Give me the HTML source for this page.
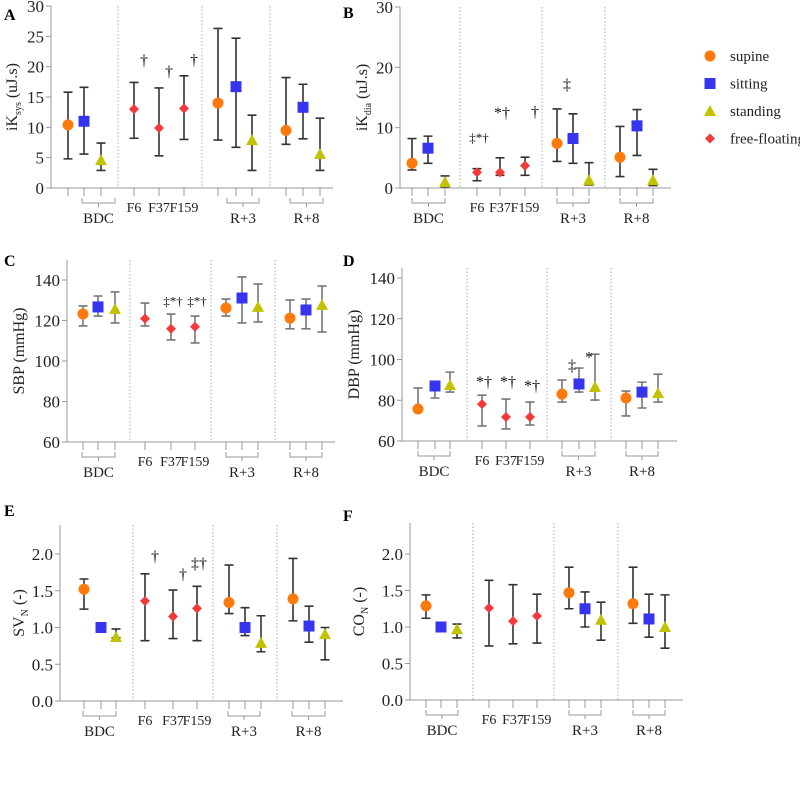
<!DOCTYPE html>
<html><head><meta charset="utf-8">
<style>
html,body{margin:0;padding:0;background:#fff;}
svg, svg text{font-family:"Liberation Serif","DejaVu Serif",serif;}
</style></head>
<body>
<svg id="chart" width="800" height="799" viewBox="0 0 800 799" xmlns="http://www.w3.org/2000/svg" font-family="Liberation Serif, serif"></svg>
<script>
// categories (order of points in every panel)
const pointGroups = ['BDC','BDC','BDC','F6','F37','F159','R+3','R+3','R+3','R+8','R+8','R+8'];
const pointPostures = ['supine','sitting','standing','free-floating','free-floating','free-floating','supine','sitting','standing','supine','sitting','standing'];
const legendLabels = ['supine','sitting','standing','free-floating'];

// Panel A iKsys
const A_mean = [10.4,11.0,4.6,13.0,9.9,13.1,14.0,16.7,7.9,9.5,13.3,5.6];
const A_lo   = [4.8,5.6,2.9,8.2,5.3,8.0,7.9,6.7,2.9,7.2,8.1,2.9];
const A_hi   = [15.8,16.6,7.4,17.4,16.5,18.5,26.3,24.7,12.0,18.2,17.1,11.5];
const A_ticks = [0,5,10,15,20,25,30];
const A_annot = [[3,'†',20.2],[4,'†',18.4],[5,'†',20.3]];
// Panel B iKdia
const B_mean = [4.1,6.6,1.0,2.6,2.6,3.7,7.4,8.2,1.3,5.1,10.3,1.3];
const B_lo   = [3.0,4.1,0.2,1.2,2.1,2.1,4.4,4.1,0.5,1.9,5.4,0.4];
const B_hi   = [8.2,8.6,2.0,3.2,5.0,5.1,13.1,12.3,4.2,10.2,13.0,3.1];
const B_ticks = [0,10,20,30];
const B_annot = [[3,'‡*†',7.6],[4,'*†',11.6],[5,'†',11.8],[6,'‡',16.3]];
// Panel C SBP
const C_mean = [123.2,126.7,125.7,120.9,115.9,116.9,126.2,131.1,126.7,121.2,125.2,127.7];
const C_lo   = [117.3,122.2,118.8,117.3,110.4,108.9,122.2,118.8,119.3,115.9,115.9,114.3];
const C_hi   = [127.2,132.1,134.1,128.6,123.2,122.2,130.6,141.5,138.0,130.1,130.6,137.0];
const C_ticks = [60,80,100,120,140];
const C_annot = [[4,'‡*†',127.5],[5,'‡*†',127.5]];
// Panel D DBP
const D_mean = [75.7,87.0,87.5,78.1,71.8,71.8,83.0,88.0,86.5,81.1,84.0,83.5];
const D_lo   = [74.7,81.1,84.0,67.4,65.9,67.8,79.1,84.0,80.1,72.3,76.2,79.1];
const D_hi   = [86.0,88.5,93.8,82.5,80.6,79.1,89.9,95.8,102.6,84.5,88.9,92.8];
const D_ticks = [60,80,100,120,140];
const D_annot = [[3,'*†',86.5],[4,'*†',86.5],[5,'*†',84.5],[6,'‡',94.5],[7,'*',98.5]];
// Panel E SVN
const E_mean = [1.52,1.0,0.87,1.36,1.15,1.26,1.34,1.0,0.79,1.39,1.02,0.91];
const E_lo   = [1.25,1.0,0.86,0.82,0.85,0.82,1.19,0.89,0.67,1.09,0.80,0.56];
const E_hi   = [1.66,1.0,0.98,1.73,1.51,1.56,1.85,1.27,1.16,1.94,1.29,1.0];
const E_ticks = [0.0,0.5,1.0,1.5,2.0];
const E_annot = [[3,'†',1.9],[4,'†',1.65],[5,'‡†',1.8]];
// Panel F CON
const F_mean = [1.29,1.0,0.97,1.26,1.08,1.15,1.47,1.25,1.10,1.32,1.11,1.0];
const F_lo   = [1.12,1.0,0.85,0.74,0.77,0.78,1.25,1.0,0.82,1.05,0.86,0.71];
const F_hi   = [1.44,1.0,1.04,1.64,1.58,1.45,1.82,1.48,1.34,1.82,1.45,1.44];
const F_ticks = [0.0,0.5,1.0,1.5,2.0];
const F_annot = [];

const colors = {'supine':'#ff7a0a','sitting':'#3535f0','standing':'#c2c200','free-floating':'#f23a3a'};
const FONT = '"Liberation Serif", "DejaVu Serif", serif';
const NS='http://www.w3.org/2000/svg';
const svg=document.getElementById('chart');
function mk(tag,attrs,parent){const e=document.createElementNS(NS,tag);for(const k in attrs)e.setAttribute(k,attrs[k]);if(tag==='text')e.style.fontFamily=FONT;(parent||svg).appendChild(e);return e;}

const panels=[
 {id:'A',mean:A_mean,lo:A_lo,hi:A_hi,ticks:A_ticks,annot:A_annot,fmt:v=>String(v),ax:51,ax1:333,base:188,vmin:0,vref:30,yref:6,top:6,
  tx:[68,84,101,134,159,184,218,236,252,286,303,320],div:[118,202,270],br:[[82,115],[227,259],[290,323]],
  letter:[4,20],title:['iK','sys',' (uJ.s)'],tlx:17,err:'#333'},
 {id:'B',mean:B_mean,lo:B_lo,hi:B_hi,ticks:B_ticks,annot:B_annot,fmt:v=>String(v),ax:400,ax1:671,base:188,vmin:0,vref:30,yref:7,top:7,
  tx:[412,428,445,477,500,525,557,573,589,620,637,653],div:[460,542,605],br:[[412,445],[557,589],[620,653]],
  letter:[343,18],title:['iK','dia',' (uJ.s)'],tlx:367,err:'#333'},
 {id:'C',mean:C_mean,lo:C_lo,hi:C_hi,ticks:C_ticks,annot:C_annot,fmt:v=>String(v),ax:67,ax1:335,base:442,vmin:60,vref:140,yref:280,top:260,
  tx:[83,98,115,145,171,195,226,242,258,290,306,322],div:[130,211,275],br:[[82,115],[226,258],[290,322]],
  letter:[4,266],title:['SBP (mmHg)','',''],tlx:24,err:'#777'},
 {id:'D',mean:D_mean,lo:D_lo,hi:D_hi,ticks:D_ticks,annot:D_annot,fmt:v=>String(v),ax:402,ax1:677,base:441,vmin:60,vref:140,yref:278,top:268,
  tx:[418,435,450,482,506,530,562,579,595,626,642,658],div:[467,547,611],br:[[418,450],[562,595],[626,658]],
  letter:[343,266],title:['DBP (mmHg)','',''],tlx:359,err:'#777'},
 {id:'E',mean:E_mean,lo:E_lo,hi:E_hi,ticks:E_ticks,annot:E_annot,fmt:v=>v.toFixed(1),ax:60,ax1:343,base:701,vmin:0,vref:2,yref:554,top:525,
  tx:[84,101,116,145,173,197,229,245,261,293,309,325],div:[133,213,277],br:[[83,116],[228,260],[292,325]],
  letter:[4,516],title:['SV','N',' (-)'],tlx:24,err:'#333'},
 {id:'F',mean:F_mean,lo:F_lo,hi:F_hi,ticks:F_ticks,annot:F_annot,fmt:v=>v.toFixed(1),ax:410,ax1:683,base:700,vmin:0,vref:2,yref:554,top:523,
  tx:[426,441,457,489,513,537,569,585,601,633,649,665],div:[473,554,618],br:[[426,458],[569,601],[633,665]],
  letter:[343,521],title:['CO','N',' (-)'],tlx:364,err:'#333'}
];

function marker(g,posture,x,y){
  const c=colors[posture];let e;
  if(posture==='supine'){e=mk('circle',{cx:x,cy:y,r:5.5,fill:c},g);}
  else if(posture==='sitting'){e=mk('rect',{x:x-5.5,y:y-5.5,width:11,height:11,fill:c},g);}
  else if(posture==='standing'){e=mk('polygon',{points:`${x},${y-6} ${x+6},${y+5} ${x-6},${y+5}`,fill:c},g);}
  else {e=mk('polygon',{points:`${x},${y-5} ${x+5},${y} ${x},${y+5} ${x-5},${y}`,fill:c},g);}
  return e;
}

panels.forEach(p=>{
  const g=mk('g',{});
  
  
  const k=(p.base-p.yref)/(p.vref-p.vmin);
  const ys=v=>p.base-(v-p.vmin)*k;
  const L=mk('text',{x:p.letter[0],y:p.letter[1],'font-size':16,'font-weight':'bold'},g);L.textContent=p.id;
  
  
  const ya=mk('line',{x1:p.ax,y1:p.top,x2:p.ax,y2:p.base,stroke:'#999','stroke-width':1},g);
  
  
  const xa=mk('line',{x1:p.ax,y1:p.base,x2:p.ax1,y2:p.base,stroke:'#999','stroke-width':1},g);
  
  
  p.ticks.forEach(t=>{
    const y=ys(t);
    mk('line',{x1:p.ax-5,y1:y,x2:p.ax,y2:y,stroke:'#999'},g);
    const tl=mk('text',{x:p.ax-7,y:y+6,'font-size':17,'text-anchor':'end',fill:'#222'},g);tl.textContent=p.fmt(t);
    
    
  });
  const cy=(p.top+p.base)/2;
  const tt=mk('text',{x:p.tlx,y:cy,'font-size':16,'text-anchor':'middle',transform:`rotate(-90 ${p.tlx} ${cy})`,fill:'#222'},g);
  
  
  const t1=mk('tspan',{},tt);t1.textContent=p.title[0];
  if(p.title[1]){const t2=mk('tspan',{'font-size':10,dy:4},tt);t2.textContent=p.title[1];const t3=mk('tspan',{dy:-4},tt);t3.textContent=p.title[2];}
  p.div.forEach(x=>{
    const d=mk('line',{x1:x,y1:p.top,x2:x,y2:p.base,stroke:'#aaa','stroke-width':1,'stroke-dasharray':'1.5,2'},g);
    
    
  });
  p.tx.forEach(x=>mk('line',{x1:x,y1:p.base,x2:x,y2:p.base+8,stroke:'#999'},g));
  const gl=['BDC','R+3','R+8'];
  p.br.forEach((b,i)=>{
    const by=p.base+15;
    const br=mk('path',{d:`M${b[0]},${by-5}V${by}H${b[1]}V${by-5}M${(b[0]+b[1])/2},${by}V${by+4}`,fill:'none',stroke:'#999'},g);
    
    
    const t=mk('text',{x:(b[0]+b[1])/2,y:p.base+35,'font-size':15,'text-anchor':'middle',fill:'#222'},g);t.textContent=gl[i];
    
    
  });
  [3,4,5].forEach(i=>{
    const t=mk('text',{x:p.tx[i],y:p.base+24,'font-size':14,'text-anchor':'middle',fill:'#222'},g);t.textContent=pointGroups[i];
    
    
  });
  p.mean.forEach((m,i)=>{
    const x=p.tx[i],yl=ys(p.lo[i]),yh=ys(p.hi[i]);
    const eb=mk('path',{d:`M${x},${yl}V${yh}M${x-4.5},${yl}H${x+4.5}M${x-4.5},${yh}H${x+4.5}`,stroke:p.err,'stroke-width':1.6,fill:'none'},g);
    
    
    const mkr=marker(g,pointPostures[i],x,ys(m));
    
    
  });
  p.annot.forEach(a=>{
    const t=mk('text',{x:p.tx[a[0]]+(a[1].length>1?2:10),y:ys(a[2]),'font-size':a[1].length>2?13:16,'text-anchor':'middle',fill:'#111'},g);
    t.textContent=a[1];
    
    
  });
});

const lg=mk('g',{});


legendLabels.forEach((lab,i)=>{
  const y=56+i*27.5;
  const m=marker(lg,lab,710,y);
  
  
  const t=mk('text',{x:730,y:y+5,'font-size':15,fill:'#222'},lg);t.textContent=lab;
  
  
});
</script>
</body></html>
